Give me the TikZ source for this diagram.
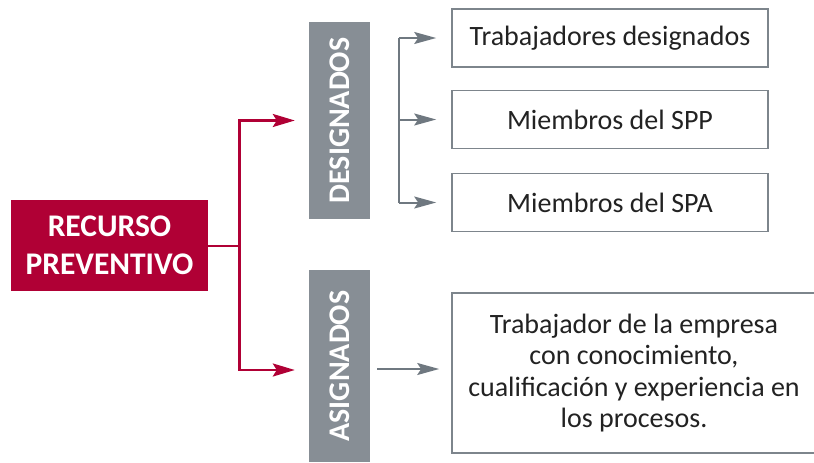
\documentclass[tikz,border=0pt]{standalone}
\usepackage{fontspec}
\setmainfont{Carlito}
\usepackage{graphicx}
\usetikzlibrary{positioning,arrows.meta}
\definecolor{recred}{RGB}{176,0,53}
\definecolor{boxgray}{RGB}{135,142,149}
\definecolor{linegray}{RGB}{111,120,128}
\definecolor{framegray}{RGB}{125,133,140}
\definecolor{txtdark}{RGB}{34,34,34}

\begin{document}
\begin{tikzpicture}[
    x=1pt, y=-1pt,
    redbox/.style={rectangle, fill=recred, text=white, minimum width=197pt, minimum height=91pt, align=center,
        font=\bfseries\fontsize{31.5}{37.5}\selectfont, inner sep=0pt},
    graybox/.style={rectangle, fill=boxgray, text=white, minimum width=61pt, inner sep=0pt,
        font=\bfseries\fontsize{30}{32}\selectfont},
    itembox/.style={rectangle, draw=framegray, line width=1.6pt, text=txtdark, minimum width=316pt, minimum height=58pt,
        align=center, font=\fontsize{28}{31.5}\selectfont, inner sep=0pt},
    redarrow/.style={-{Stealth[length=22pt, width=13pt, inset=4pt]}, draw=recred, line width=2.6pt},
    grayarrow/.style={-{Stealth[length=22pt, width=12pt, inset=4pt]}, draw=linegray, line width=2pt},
    grayline/.style={draw=linegray, line width=2pt}
]
    \useasboundingbox (0,0) rectangle (814,463);

    % Nodes
    \node[redbox] (recurso) at (109.5,245.5) {RECURSO\\PREVENTIVO};
    \node[graybox, minimum height=197pt] (designados) at (339.5,120.5) {\rotatebox{90}{DESIGNADOS}};
    \node[graybox, minimum height=192pt] (asignados) at (339.5,366) {\rotatebox{90}{ASIGNADOS}};
    \node[itembox] (trab) at (610,38) {Trabajadores designados};
    \node[itembox] (spp) at (610,119.5) {Miembros del SPP};
    \node[itembox] (spa) at (610,202.5) {Miembros del SPA};
    \node[itembox, minimum width=364pt, minimum height=160pt] (proc) at (634,373)
        {Trabajador de la empresa\\con conocimiento,\\cualificación y experiencia en\\los procesos.};

    % Arrows
    \draw[draw=recred, line width=2pt] (recurso.east) -- ++(31,0) coordinate (rsplit);
    \draw[redarrow] (rsplit) |- ([xshift=-14pt]designados.west);
    \draw[redarrow] (rsplit) |- ([xshift=-14pt,yshift=-4pt]asignados.west);

    \draw[grayline] ([xshift=-52pt]trab.west) -- ([xshift=-52pt]spa.west);
    \foreach \n in {trab,spp,spa}
        \draw[grayarrow] ([xshift=-52pt]\n.west) -- ([xshift=-15pt]\n.west);
    \draw[grayarrow] ([xshift=7pt,yshift=-3pt]asignados.east) -- ([xshift=-12pt,yshift=-3pt]asignados.east -| proc.west);
\end{tikzpicture}
\end{document}
